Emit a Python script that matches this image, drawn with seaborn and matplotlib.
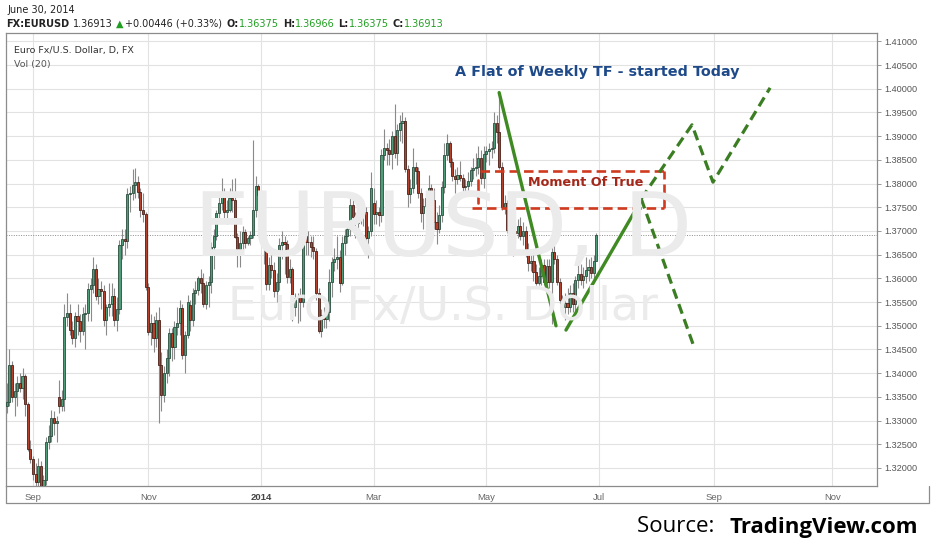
import numpy as np
import pandas as pd
import seaborn as sns
import matplotlib
matplotlib.use('Agg')
import matplotlib.pyplot as plt
from matplotlib.lines import Line2D

# ---------------------------------------------------------------- data
# EUR/USD daily candles, 19 Aug 2013 .. 30 Jun 2014
opens = [
    1.3330, 1.3340, 1.3418, 1.3350, 1.3362, 1.3380, 1.3368, 1.3395, 1.3335, 1.3240,  # Aug
    1.3220, 1.3188, 1.3170, 1.3205, 1.3115, 1.3175, 1.3255, 1.3268, 1.3305, 1.3295,
    1.3349, 1.3330, 1.3345, 1.3519, 1.3527, 1.3492, 1.3475, 1.3520, 1.3510, 1.3488, 1.3525,  # Sep
    1.3526, 1.3577, 1.3585, 1.3620, 1.3562, 1.3577, 1.3573, 1.3512, 1.3540, 1.3545,
    1.3563, 1.3512, 1.3535, 1.3670, 1.3684, 1.3678, 1.3779, 1.3780, 1.3798, 1.3803,
    1.3782, 1.3744, 1.3735,  # Oct
    1.3582, 1.3487, 1.3505, 1.3475, 1.3512, 1.3417, 1.3354, 1.3400, 1.3432, 1.3485,
    1.3455, 1.3498, 1.3505, 1.3538, 1.3439, 1.3481, 1.3544, 1.3512, 1.3569, 1.3575, 1.3600,  # Nov
    1.3590, 1.3546, 1.3586, 1.3592, 1.3666, 1.3690, 1.3738, 1.3760, 1.3782, 1.3740,
    1.3745, 1.3770, 1.3765, 1.3688, 1.3662, 1.3675, 1.3698, 1.3675, 1.3685, 1.3692,
    1.3745, 1.3795,  # Dec
    1.3775, 1.3772, 1.3666, 1.3588, 1.3628, 1.3617, 1.3574, 1.3592, 1.3670, 1.3677,
    1.3672, 1.3602, 1.3620, 1.3540, 1.3559, 1.3560, 1.3550, 1.3690, 1.3677, 1.3676,
    1.3667, 1.3657, 1.3570,  # Jan
    1.3488, 1.3523, 1.3514, 1.3530, 1.3592, 1.3635, 1.3640, 1.3645, 1.3590, 1.3675,
    1.3690, 1.3705, 1.3755, 1.3730, 1.3717, 1.3740, 1.3735, 1.3740, 1.3686, 1.3700,  # Feb
    1.3760, 1.3735, 1.3741, 1.3734, 1.3861, 1.3875, 1.3870, 1.3862, 1.3900, 1.3865,
    1.3913, 1.3928, 1.3933, 1.3830, 1.3778, 1.3790, 1.3834, 1.3827, 1.3780, 1.3737, 1.3752,  # Mar
    1.3769, 1.3790, 1.3765, 1.3719, 1.3705, 1.3734, 1.3793, 1.3860, 1.3885, 1.3845,
    1.3815, 1.3810, 1.3818, 1.3812, 1.3792, 1.3795, 1.3805, 1.3828, 1.3832, 1.3835,
    1.3855, 1.3812,  # Apr
    1.3862, 1.3868, 1.3872, 1.3875, 1.3928, 1.3909, 1.3835, 1.3751, 1.3758, 1.3702,
    1.3712, 1.3700, 1.3695, 1.3710, 1.3690, 1.3700, 1.3660, 1.3633, 1.3637, 1.3614,
    1.3590, 1.3606,  # May
    1.3628, 1.3592, 1.3627, 1.3592, 1.3656, 1.3640, 1.3593, 1.3555, 1.3540, 1.3548,
    1.3540, 1.3569, 1.3545, 1.3597, 1.3610, 1.3597, 1.3605, 1.3618, 1.3625, 1.3611,
    1.36375,  # Jun
]
highs = [
    1.3380, 1.3452, 1.3425, 1.3380, 1.3395, 1.3400, 1.3410, 1.3398, 1.3340, 1.3260,
    1.3225, 1.3210, 1.3222, 1.3215, 1.3185, 1.3265, 1.3290, 1.3322, 1.3320, 1.3310,
    1.3386, 1.3365, 1.3545, 1.3569, 1.3545, 1.3510, 1.3530, 1.3545, 1.3525, 1.3540, 1.3545,
    1.3590, 1.3600, 1.3646, 1.3630, 1.3600, 1.3595, 1.3585, 1.3545, 1.3590, 1.3590,
    1.3580, 1.3560, 1.3680, 1.3705, 1.3705, 1.3790, 1.3795, 1.3830, 1.3832, 1.3815,
    1.3790, 1.3780, 1.3740,
    1.3590, 1.3525, 1.3520, 1.3530, 1.3540, 1.3445, 1.3415, 1.3450, 1.3495, 1.3495,
    1.3510, 1.3540, 1.3555, 1.3545, 1.3490, 1.3565, 1.3555, 1.3580, 1.3595, 1.3605, 1.3620,
    1.3612, 1.3595, 1.3605, 1.3677, 1.3705, 1.3745, 1.3775, 1.3811, 1.3790, 1.3765,
    1.3790, 1.3810, 1.3812, 1.3695, 1.3700, 1.3710, 1.3705, 1.3690, 1.3700, 1.3893,
    1.3815, 1.3800,
    1.3780, 1.3775, 1.3670, 1.3645, 1.3650, 1.3635, 1.3612, 1.3686, 1.3700, 1.3690,
    1.3680, 1.3640, 1.3625, 1.3570, 1.3570, 1.3580, 1.3700, 1.3740, 1.3700, 1.3690,
    1.3690, 1.3665, 1.3580,
    1.3535, 1.3540, 1.3545, 1.3620, 1.3645, 1.3665, 1.3690, 1.3660, 1.3690, 1.3705,
    1.3720, 1.3772, 1.3775, 1.3740, 1.3770, 1.3770, 1.3765, 1.3750, 1.3710, 1.3824,
    1.3790, 1.3765, 1.3750, 1.3873, 1.3915, 1.3885, 1.3895, 1.3910, 1.3967, 1.3925,
    1.3945, 1.3950, 1.3940, 1.3840, 1.3810, 1.3876, 1.3845, 1.3835, 1.3790, 1.3770, 1.3780,
    1.3818, 1.3800, 1.3790, 1.3740, 1.3755, 1.3805, 1.3885, 1.3905, 1.3890, 1.3855,
    1.3830, 1.3835, 1.3848, 1.3820, 1.3810, 1.3825, 1.3835, 1.3855, 1.3865, 1.3880,
    1.3870, 1.3880,
    1.3880, 1.3885, 1.3890, 1.3950, 1.3945, 1.3993, 1.3845, 1.3775, 1.3765, 1.3730,
    1.3745, 1.3720, 1.3725, 1.3730, 1.3720, 1.3710, 1.3675, 1.3650, 1.3655, 1.3630,
    1.3625, 1.3640,
    1.3640, 1.3640, 1.3640, 1.3677, 1.3670, 1.3650, 1.3600, 1.3565, 1.3570, 1.3580,
    1.3585, 1.3590, 1.3605, 1.3640, 1.3630, 1.3625, 1.3645, 1.3640, 1.3645, 1.3650,
    1.36966,
]
lows = [
    1.3316, 1.3330, 1.3340, 1.3310, 1.3330, 1.3360, 1.3345, 1.3310, 1.3236, 1.3210,
    1.3175, 1.3150, 1.3160, 1.3110, 1.3105, 1.3165, 1.3240, 1.3255, 1.3270, 1.3255,
    1.3316, 1.3320, 1.3320, 1.3500, 1.3480, 1.3462, 1.3455, 1.3480, 1.3465, 1.3480, 1.3450,
    1.3510, 1.3510, 1.3570, 1.3555, 1.3545, 1.3535, 1.3500, 1.3480, 1.3520, 1.3520,
    1.3500, 1.3490, 1.3525, 1.3640, 1.3650, 1.3665, 1.3740, 1.3765, 1.3770, 1.3770,
    1.3730, 1.3720, 1.3575,
    1.3480, 1.3460, 1.3445, 1.3455, 1.3295, 1.3320, 1.3340, 1.3380, 1.3395, 1.3425,
    1.3430, 1.3480, 1.3480, 1.3430, 1.3400, 1.3475, 1.3490, 1.3500, 1.3545, 1.3565, 1.3570,
    1.3540, 1.3535, 1.3540, 1.3570, 1.3620, 1.3680, 1.3720, 1.3745, 1.3720, 1.3715,
    1.3740, 1.3740, 1.3685, 1.3625, 1.3625, 1.3660, 1.3665, 1.3670, 1.3670, 1.3685,
    1.3730, 1.3740,
    1.3765, 1.3630, 1.3575, 1.3575, 1.3600, 1.3560, 1.3550, 1.3575, 1.3640, 1.3610,
    1.3590, 1.3590, 1.3510, 1.3520, 1.3505, 1.3510, 1.3540, 1.3650, 1.3650, 1.3645,
    1.3640, 1.3555, 1.3485,
    1.3477, 1.3495, 1.3495, 1.3510, 1.3560, 1.3615, 1.3620, 1.3572, 1.3585, 1.3650,
    1.3675, 1.3690, 1.3720, 1.3685, 1.3705, 1.3715, 1.3710, 1.3660, 1.3642, 1.3690,
    1.3715, 1.3715, 1.3710, 1.3720, 1.3850, 1.3840, 1.3840, 1.3830, 1.3855, 1.3840,
    1.3890, 1.3885, 1.3825, 1.3750, 1.3760, 1.3780, 1.3800, 1.3770, 1.3720, 1.3705, 1.3735,
    1.3755, 1.3750, 1.3705, 1.3672, 1.3695, 1.3720, 1.3780, 1.3850, 1.3835, 1.3805,
    1.3780, 1.3800, 1.3805, 1.3785, 1.3775, 1.3780, 1.3795, 1.3810, 1.3815, 1.3820,
    1.3800, 1.3790,
    1.3845, 1.3840, 1.3855, 1.3865, 1.3885, 1.3830, 1.3745, 1.3735, 1.3695, 1.3685,
    1.3648, 1.3675, 1.3685, 1.3680, 1.3670, 1.3645, 1.3615, 1.3615, 1.3595, 1.3585,
    1.3585, 1.3585,
    1.3585, 1.3580, 1.3580, 1.3503, 1.3630, 1.3585, 1.3545, 1.3525, 1.3512, 1.3525,
    1.3530, 1.3530, 1.3525, 1.3580, 1.3585, 1.3580, 1.3590, 1.3595, 1.3600, 1.3595,
    1.36375,
]
closes = [
    1.3340, 1.3418, 1.3350, 1.3362, 1.3380, 1.3368, 1.3395, 1.3335, 1.3240, 1.3220,
    1.3188, 1.3170, 1.3205, 1.3115, 1.3175, 1.3255, 1.3268, 1.3305, 1.3295, 1.3300,
    1.3330, 1.3345, 1.3519, 1.3527, 1.3492, 1.3475, 1.3520, 1.3510, 1.3488, 1.3525, 1.3526,
    1.3577, 1.3585, 1.3620, 1.3562, 1.3577, 1.3573, 1.3512, 1.3540, 1.3545, 1.3563,
    1.3512, 1.3535, 1.3670, 1.3684, 1.3678, 1.3779, 1.3780, 1.3798, 1.3803, 1.3782,
    1.3744, 1.3735, 1.3582,
    1.3487, 1.3505, 1.3475, 1.3512, 1.3417, 1.3354, 1.3400, 1.3432, 1.3485, 1.3455,
    1.3498, 1.3505, 1.3538, 1.3439, 1.3481, 1.3550, 1.3512, 1.3569, 1.3575, 1.3600, 1.3590,
    1.3546, 1.3586, 1.3592, 1.3666, 1.3690, 1.3738, 1.3760, 1.3782, 1.3740, 1.3745,
    1.3770, 1.3765, 1.3688, 1.3662, 1.3675, 1.3698, 1.3675, 1.3685, 1.3692, 1.3745,
    1.3795, 1.3775,
    1.3772, 1.3666, 1.3588, 1.3628, 1.3617, 1.3574, 1.3592, 1.3670, 1.3677, 1.3672,
    1.3602, 1.3620, 1.3540, 1.3559, 1.3560, 1.3550, 1.3690, 1.3677, 1.3676, 1.3667,
    1.3657, 1.3570, 1.3488,
    1.3523, 1.3514, 1.3530, 1.3592, 1.3635, 1.3640, 1.3645, 1.3590, 1.3675, 1.3690,
    1.3705, 1.3755, 1.3730, 1.3717, 1.3740, 1.3735, 1.3740, 1.3686, 1.3700, 1.3790,
    1.3735, 1.3741, 1.3734, 1.3861, 1.3875, 1.3870, 1.3862, 1.3900, 1.3865, 1.3913,
    1.3928, 1.3933, 1.3830, 1.3778, 1.3790, 1.3834, 1.3827, 1.3780, 1.3737, 1.3752, 1.3769,
    1.3790, 1.3765, 1.3719, 1.3705, 1.3734, 1.3793, 1.3860, 1.3885, 1.3845, 1.3815,
    1.3810, 1.3818, 1.3812, 1.3792, 1.3795, 1.3805, 1.3828, 1.3832, 1.3835, 1.3855,
    1.3812, 1.3862,
    1.3868, 1.3872, 1.3875, 1.3928, 1.3909, 1.3835, 1.3751, 1.3758, 1.3702, 1.3712,
    1.3700, 1.3695, 1.3710, 1.3690, 1.3700, 1.3660, 1.3633, 1.3637, 1.3614, 1.3590,
    1.3606, 1.3628,
    1.3592, 1.3627, 1.3592, 1.3656, 1.3640, 1.3593, 1.3555, 1.3540, 1.3548, 1.3540,
    1.3569, 1.3545, 1.3597, 1.3610, 1.3597, 1.3605, 1.3618, 1.3625, 1.3611, 1.36375,
    1.36913,
]
last_price = 1.36913

# month ticks of the time axis
tick_months = ['2013-09-01', '2013-11-01', '2014-01-01', '2014-03-01',
               '2014-05-01', '2014-07-01', '2014-09-01', '2014-11-01']
tick_labels = ['Sep', 'Nov', '2014', 'Mar', 'May', 'Jul', 'Sep', 'Nov']

# hand drawn analysis (bar index, price)
wave_down_x, wave_down_y = [187.9, 209.6], [1.3992, 1.3500]
wave_up_x, wave_up_y = [213.4, 241.7], [1.3491, 1.3761]
proj_up_x, proj_up_y = [242.1, 261.5, 269.5, 291.3], [1.3768, 1.3924, 1.3803, 1.4002]
proj_down_x, proj_down_y = [242.1, 262.3], [1.3768, 1.3455]
zone_x = [179.8, 250.8]
zone_y = [1.3749, 1.3827]

# ---------------------------------------------------------------- setup
sns.set_theme(style="white")
plt.rcParams['font.family'] = ['DejaVu Sans']

W, H = 932, 550
fig = plt.figure(figsize=(W / 100, H / 100), dpi=100)
fig.patch.set_facecolor('white')


def fx(px):
    return px / W


def fy(py):
    return 1 - py / H


ax = fig.add_axes([fx(6), fy(486), fx(877) - fx(6), fy(33) - fy(486)])
ax.set_facecolor('white')

days = pd.bdate_range('2013-08-19', '2014-11-30')
n = len(closes)
x = np.arange(n)
o = np.array(opens)
h = np.array(highs)
l = np.array(lows)
c = np.array(closes)

# watermark
fig.text(fx(443), fy(232), 'EURUSD, D', fontsize=64, color='#ebebeb',
         ha='center', va='center', zorder=0)
fig.text(fx(443), fy(307), 'Euro Fx/U.S. Dollar', fontsize=33, color='#ebebeb',
         ha='center', va='center', zorder=0)
ax.patch.set_alpha(0)

# grid
tick_pos = [int(np.searchsorted(days, pd.Timestamp(m))) for m in tick_months]
yticks = np.arange(1.32, 1.4101, 0.005)
for yv in yticks:
    ax.axhline(yv, color='#e2e2e2', lw=0.8, zorder=1)
for xv in tick_pos:
    ax.axvline(xv, color='#e2e2e2', lw=0.8, zorder=1)

# candles
up = c >= o
ax.vlines(x, l, h, color='#8a8a8a', lw=0.8, zorder=2)
ax.bar(x[up], (c - o)[up], bottom=o[up], width=0.8, color='#4f9c78',
       edgecolor='#2a4d3e', linewidth=0.6, zorder=3)
ax.bar(x[~up], (c - o)[~up], bottom=o[~up], width=0.8, color='#b5402b',
       edgecolor='#4a2018', linewidth=0.6, zorder=3)

# last price line
ax.axhline(last_price, color='#8a8a8a', lw=0.7, ls=(0, (1, 1.5)), zorder=2)

# analysis drawings
green = '#3f8a22'
sns.lineplot(x=wave_down_x, y=wave_down_y, ax=ax, color=green, lw=2.4, sort=False, zorder=5)
sns.lineplot(x=wave_up_x, y=wave_up_y, ax=ax, color=green, lw=2.4, sort=False, zorder=5)
ax.plot(proj_up_x, proj_up_y, color='#3a7d22', lw=2.3, dashes=(3.2, 1.8), zorder=5)
ax.plot(proj_down_x, proj_down_y, color='#3a7d22', lw=2.3, dashes=(3.2, 1.8), zorder=5)

red = '#d03a1e'
zx0, zx1 = zone_x
zy0, zy1 = zone_y
ax.plot([zx0 + 0.8, zx1], [zy1, zy1], color=red, lw=1.9, dashes=(3.6, 1.9), zorder=4)
ax.plot([zx0 - 2.3, zx1], [zy0, zy0], color=red, lw=1.9, dashes=(3.6, 1.9), zorder=4)
ax.plot([zx1, zx1], [zy0, zy1], color=red, lw=1.9, dashes=(3.6, 1.9), zorder=4)
ax.plot([zx0, zx0], [zy0 + 0.0009, zy1 - 0.0020], color=red, lw=1.9, zorder=4)

fig.text(fx(597), fy(72), 'A Flat of Weekly TF - started Today', fontsize=10.4,
         fontweight='bold', color='#1f4a8a', ha='center', va='center')
fig.text(fx(586), fy(182), 'Moment Of True', fontsize=9.2, fontweight='bold',
         color='#a3281a', ha='center', va='center')

# axes
ax.set_xlim(-0.3, 332.1)
ax.set_ylim(1.3162, 1.41177)
ax.yaxis.tick_right()
ax.set_yticks(yticks)
ax.set_yticklabels([f'{v:.5f}' for v in yticks], fontsize=6.6, color='#555555',
                   family='Liberation Sans')
ax.set_xticks(tick_pos)
ax.set_xticklabels(tick_labels, fontsize=6.8, color='#666666', family='Liberation Sans')
ax.get_xticklabels()[2].set_fontweight('bold')
ax.get_xticklabels()[2].set_color('#444444')
ax.tick_params(axis='y', which='both', right=True, length=3, width=0.6, color='#888888', pad=2)
ax.tick_params(axis='x', length=3, width=0.6, color='#888888', pad=2)
for s in ax.spines.values():
    s.set_color('#8c8c8c')
    s.set_linewidth(0.9)
ax.set_xlabel('')
ax.set_ylabel('')
legend = ax.get_legend()
if legend:
    legend.remove()

# outer frame around the time scale
fig.add_artist(Line2D([fx(6), fx(6)], [fy(486), fy(503)], color='#8c8c8c', lw=0.9))
fig.add_artist(Line2D([fx(6), fx(929)], [fy(503), fy(503)], color='#8c8c8c', lw=0.9))
fig.add_artist(Line2D([fx(929), fx(929)], [fy(486), fy(503)], color='#8c8c8c', lw=0.9))

# pane captions
fig.text(fx(14), fy(50), 'Euro Fx/U.S. Dollar, D, FX', fontsize=6.8, color='#333333',
         va='center')
fig.text(fx(14), fy(64), 'Vol (20)', fontsize=6.8, color='#555555', va='center')

# header
fig.text(fx(7), fy(10), 'June 30, 2014', fontsize=7, color='#222222', va='center')
renderer = fig.canvas.get_renderer()
pieces = [
    ('FX:EURUSD', 'bold', '#222222', 4), ('1.36913', 'normal', '#222222', 3),
    ('\u25b2', 'normal', '#1f9e1f', 2), ('+0.00446 (+0.33%)', 'normal', '#222222', 4),
    ('O:', 'bold', '#222222', 0), ('1.36375', 'normal', '#22a022', 4),
    ('H:', 'bold', '#222222', 0), ('1.36966', 'normal', '#22a022', 4),
    ('L:', 'bold', '#222222', 0), ('1.36375', 'normal', '#22a022', 4),
    ('C:', 'bold', '#222222', 0), ('1.36913', 'normal', '#22a022', 0),
]
px = 6
for txt, weight, col, gap in pieces:
    t = fig.text(fx(px), fy(24), txt, fontsize=7, fontweight=weight, color=col, va='center')
    bb = t.get_window_extent(renderer)
    px = bb.x1 + gap

# source line
fig.text(fx(637), fy(527), 'Source: ', fontsize=16, family='Open Sans', color='black',
         va='center')
fig.text(fx(918), fy(527), 'TradingView.com', fontsize=16, family='Open Sans',
         fontweight='bold', color='black', va='center', ha='right')

fig.savefig('out.png', dpi=100, facecolor='white')
